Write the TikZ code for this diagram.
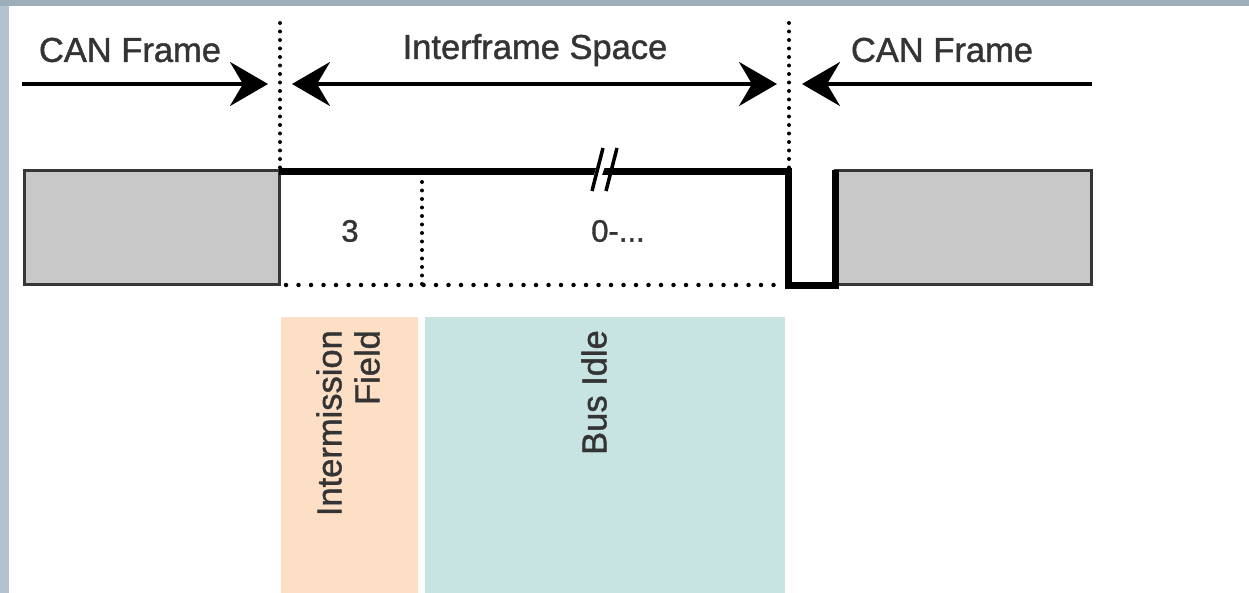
\documentclass[tikz,border=0pt]{standalone}
\usepackage{fontspec}
\setmainfont{Liberation Sans}[FakeBold=1.2]
\usetikzlibrary{arrows.meta}
\definecolor{frameGray}{HTML}{C8C8C8}
\definecolor{edgeGray}{HTML}{363636}
\definecolor{txtGray}{HTML}{343434}
\definecolor{peach}{HTML}{FDDFC5}
\definecolor{aqua}{HTML}{C7E3E2}
\definecolor{rimBlue}{HTML}{B2C2CE}
\definecolor{rimTop}{HTML}{9BAEBA}
\tikzset{
  lbl/.style={text=txtGray, font=\fontsize{34.5}{38}\selectfont, inner sep=0pt},
  bitlbl/.style={text=txtGray, font=\fontsize{31}{36}\selectfont, inner sep=0pt},
  framebox/.style={fill=frameGray, draw=edgeGray, line width=3pt},
  signal/.style={line width=7pt, miter limit=10},
  dotline/.style={line width=4pt, line cap=round, dash pattern=on 0pt off 8.5pt},
  wideDots/.style={line width=4.5pt, line cap=round, dash pattern=on 0pt off 12.5pt},
  span/.style={line width=4pt, -{Stealth[length=38pt, width=44pt, inset=13pt]}},
  spanboth/.style={line width=4pt, {Stealth[length=38pt, width=44pt, inset=13pt]}-{Stealth[length=38pt, width=44pt, inset=13pt]}}
}
\begin{document}
\begin{tikzpicture}[x=1pt, y=-1pt]
\useasboundingbox (0,0) rectangle (1249,593);
\fill[white] (0,0) rectangle (1249,593);
% window rim
\fill[rimBlue] (0,0) rectangle (9,593);
\fill[rimTop] (0,0) rectangle (1249,6);

% coloured field bands
\fill[peach] (281,317) rectangle (418,593);
\fill[aqua] (425,317) rectangle (785,593);

% frames on both sides
\draw[framebox] (24,171) rectangle (279,285);
\draw[framebox] (835,171) rectangle (1091,285);

% boundary markers
\coordinate (b1top) at (280,23);
\coordinate (b1bot) at (280,168);
\coordinate (b2top) at (789,23);
\coordinate (b2bot) at (789,168);
\draw[dotline] (b1top) -- (b1bot);
\draw[dotline] (b2top) -- (b2bot);

% recessive level across the interframe space, then the start bit
\draw[signal] (279,172) -- (788,172) -- (788,286) -- (835,286) -- (835,170);
% break mark in the level line
\fill[white] (593,178) -- (604,143) -- (613,143) -- (601,178) -- cycle;
\draw[line width=3.5pt] (592,191) -- (603,148);
\draw[line width=3.5pt] (606,191) -- (617,148);

% field separators
\draw[dotline] (422,182) -- (422,284);
\draw[wideDots] (286,285) -- (783,285);

% bit counts
\node[bitlbl] (n3) at (350,231) {3};
\node[bitlbl] (n0) at (618,231) {0-...};

% span labels and arrows
\node[lbl] (canL) at (130,50) {CAN Frame};
\node[lbl] (ifs) at (535,50) {Interframe Space};
\node[lbl] (canR) at (942,50) {CAN Frame};
\coordinate (aL0) at (22,84);
\coordinate (aL1) at (268,84);
\coordinate (aM0) at (292,84);
\coordinate (aM1) at (777,84);
\coordinate (aR0) at (1092,84);
\coordinate (aR1) at (802,84);
\draw[span] (aL0) -- (aL1);
\draw[spanboth] (aM0) -- (aM1);
\draw[span] (aR0) -- (aR1);

% field names
\node[lbl, rotate=90, anchor=east, align=right] (interm) at (348,330) {Intermission\\Field};
\node[lbl, rotate=90, anchor=east] (idle) at (594,330) {Bus Idle};
\end{tikzpicture}
\end{document}
